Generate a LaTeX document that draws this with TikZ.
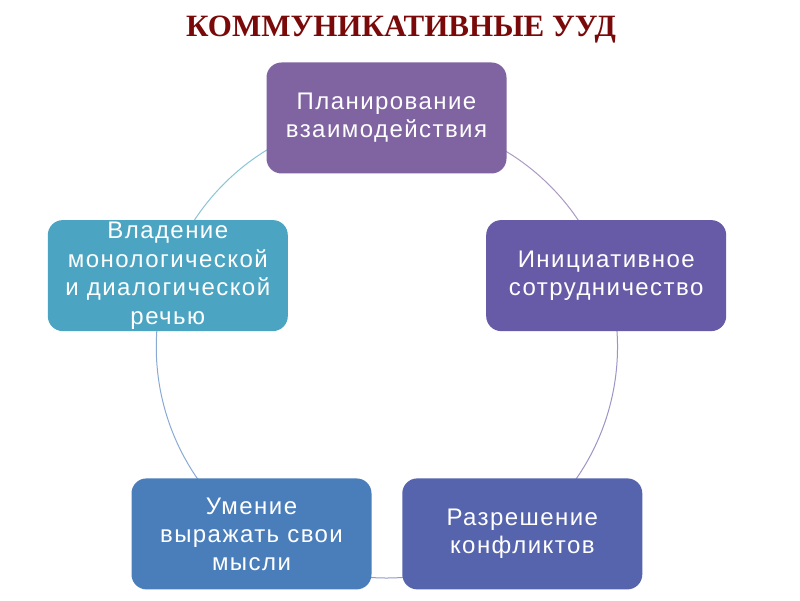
\documentclass[tikz,border=0pt]{standalone}
\usepackage{fontspec}
\setmainfont{Liberation Sans}[LetterSpace=6]
\newfontfamily\titlefont{Liberation Serif}
\definecolor{cTop}{HTML}{8064A2}
\definecolor{cRight}{HTML}{675BA7}
\definecolor{cBR}{HTML}{5664AE}
\definecolor{cBL}{HTML}{4A7EBB}
\definecolor{cLeft}{HTML}{4BA5C2}
\definecolor{cTitle}{HTML}{7A0A0A}
\pgfdeclarelayer{bg}
\pgfsetlayers{bg,main}
\begin{document}
\begin{tikzpicture}[x=1pt,y=1pt,
  box/.style={draw=none, rounded corners=15pt, minimum width=240pt, minimum height=111pt,
    text=white, align=center, inner sep=0pt,
    font=\fontsize{24}{28}\selectfont},
  ring/.style={line width=1pt}]
\useasboundingbox (0,0) rectangle (800,600);
\node[font=\titlefont\bfseries\fontsize{31}{34}\selectfont, text=cTitle] (title) at (401,570) {КОММУНИКАТИВНЫЕ УУД};
\node[box, fill=cTop] (top) at (386.5,482) {Планирование\\взаимодействия};
\node[box, fill=cRight] (right) at (606.2,324.4) {Инициативное\\сотрудничество};
\node[box, fill=cBR] (br) at (522.3,66.1) {Разрешение\\конфликтов};
\node[box, fill=cBL] (bl) at (251.5,66.1) {Умение\\выражать свои\\мысли};
\node[box, fill=cLeft, font=\fontsize{24}{28.5}\selectfont] (left) at (167.8,324.4) {Владение\\монологической\\и диалогической\\речью};
\begin{pgfonlayer}{bg}
\fill[white] (0,0) rectangle (800,600);
\draw[ring, cTop!65!white] (top.center) arc[start angle=90, end angle=18, radius=231];
\draw[ring, cRight!65!white] (right.center) arc[start angle=18, end angle=-54, radius=231];
\draw[ring, cBR!65!white] (br.center) arc[start angle=-54, end angle=-126, radius=231];
\draw[ring, cBL!65!white] (bl.center) arc[start angle=-126, end angle=-198, radius=231];
\draw[ring, cLeft!65!white] (left.center) arc[start angle=162, end angle=90, radius=231];
\end{pgfonlayer}
\end{tikzpicture}
\end{document}
